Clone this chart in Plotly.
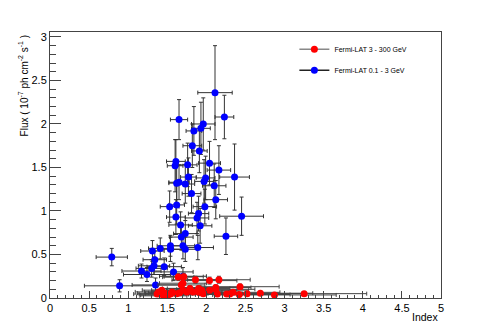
import plotly.graph_objects as go

# Fermi-LAT 0.1 - 3 GeV (blue)
blue_index = [2.11, 1.65, 2.23, 1.96, 1.93, 1.84, 1.82, 1.91, 1.61, 1.60,
              1.76, 2.04, 2.16, 2.36, 1.77, 1.99, 1.97, 1.62, 1.65, 1.73,
              2.10, 1.81, 2.12, 1.53, 1.62, 1.98, 1.90, 2.45, 1.61, 1.88,
              1.67, 1.92, 1.73, 2.25, 1.68, 1.31, 1.41, 1.54, 1.54, 1.70,
              1.73, 1.89, 1.34, 1.33, 1.30, 1.46, 1.17, 1.24, 1.58, 1.70,
              1.35, 0.79, 0.89]
blue_flux = [2.36, 2.05, 2.08, 2.00, 1.95, 1.92, 1.75, 1.69, 1.57, 1.52,
             1.53, 1.55, 1.47, 1.39, 1.39, 1.38, 1.34, 1.32, 1.33, 1.31,
             1.29, 1.20, 1.13, 1.05, 1.07, 1.05, 0.97, 0.94, 0.93, 0.92,
             0.84, 0.83, 0.74, 0.71, 0.70, 0.54, 0.57, 0.60, 0.56, 0.60,
             0.56, 0.58, 0.44, 0.37, 0.34, 0.36, 0.31, 0.27, 0.30, 0.25,
             0.15, 0.47, 0.14]
blue_index_err = [0.22, 0.11, 0.12, 0.15, 0.12, 0.10, 0.12, 0.10, 0.12, 0.10,
                  0.12, 0.14, 0.15, 0.19, 0.10, 0.12, 0.12, 0.10, 0.13, 0.12,
                  0.15, 0.12, 0.15, 0.12, 0.10, 0.15, 0.13, 0.28, 0.12, 0.15,
                  0.15, 0.15, 0.15, 0.15, 0.15, 0.15, 0.15, 0.17, 0.15, 0.15,
                  0.15, 0.20, 0.15, 0.20, 0.20, 0.22, 0.25, 0.30, 0.25, 0.30,
                  0.30, 0.20, 0.45]
blue_flux_err = [0.54, 0.23, 0.25, 0.30, 0.30, 0.28, 0.25, 0.25, 0.25, 0.30,
                 0.25, 0.25, 0.28, 0.38, 0.22, 0.25, 0.25, 0.25, 0.20, 0.22,
                 0.25, 0.22, 0.22, 0.18, 0.22, 0.20, 0.20, 0.22, 0.20, 0.18,
                 0.15, 0.20, 0.15, 0.21, 0.15, 0.12, 0.12, 0.12, 0.14, 0.15,
                 0.14, 0.14, 0.10, 0.10, 0.10, 0.10, 0.08, 0.08, 0.10, 0.10,
                 0.08, 0.10, 0.07]

# Fermi-LAT 3 - 300 GeV (red)
red_index = [1.64, 1.71, 1.86, 2.04, 2.16, 2.43, 2.12, 1.90, 1.79, 1.70,
             1.68, 1.43, 1.39, 1.37, 1.45, 1.47, 1.51, 1.54, 1.56, 1.62,
             1.66, 1.70, 1.75, 1.83, 1.91, 1.94, 1.96, 2.04, 2.12, 2.14,
             2.26, 2.30, 2.34, 2.42, 2.52, 2.69, 2.87, 3.25]
red_flux = [0.24, 0.245, 0.21, 0.20, 0.21, 0.13, 0.12, 0.11, 0.11, 0.17,
            0.15, 0.09, 0.07, 0.045, 0.025, 0.055, 0.035, 0.045, 0.07, 0.05,
            0.06, 0.09, 0.07, 0.07, 0.06, 0.09, 0.05, 0.09, 0.10, 0.045,
            0.045, 0.045, 0.065, 0.04, 0.05, 0.055, 0.035, 0.05]
red_index_err = [0.20, 0.25, 0.30, 0.35, 0.40, 0.50, 0.45, 0.40, 0.35, 0.30,
                 0.30, 0.25, 0.30, 0.30, 0.30, 0.35, 0.35, 0.40, 0.35, 0.40,
                 0.40, 0.40, 0.45, 0.45, 0.50, 0.45, 0.50, 0.50, 0.50, 0.55,
                 0.60, 0.60, 0.60, 0.65, 0.70, 0.67, 0.79, 0.80]
red_flux_err = [0.04, 0.04, 0.04, 0.04, 0.04, 0.03, 0.03, 0.03, 0.03, 0.03,
                0.03, 0.02, 0.02, 0.02, 0.02, 0.02, 0.02, 0.02, 0.02, 0.02,
                0.02, 0.02, 0.02, 0.02, 0.02, 0.02, 0.02, 0.02, 0.02, 0.02,
                0.02, 0.02, 0.02, 0.02, 0.02, 0.02, 0.02, 0.02]

font = "Liberation Sans, Arial, sans-serif"

fig = go.Figure()

fig.add_trace(go.Scatter(
    x=blue_index, y=blue_flux, mode='markers', showlegend=False,
    marker=dict(color='#0000ff', size=7),
    error_x=dict(type='data', array=blue_index_err, color='#333333', thickness=1, width=2),
    error_y=dict(type='data', array=blue_flux_err, color='#333333', thickness=1, width=2),
))
fig.add_trace(go.Scatter(
    x=red_index, y=red_flux, mode='markers', showlegend=False,
    marker=dict(color='#ff0000', size=7),
    error_x=dict(type='data', array=red_index_err, color='#444444', thickness=1, width=2),
    error_y=dict(type='data', array=red_flux_err, color='#444444', thickness=1, width=2),
))

# legend entries (line + marker, like the ROOT legend)
fig.add_trace(go.Scatter(
    x=[None], y=[None], mode='lines+markers', name='Fermi-LAT 3 - 300 GeV',
    line=dict(color='#888888', width=1.5), marker=dict(color='#ff0000', size=7),
    legendgroup='a',
))
fig.add_trace(go.Scatter(
    x=[None], y=[None], mode='lines+markers', name='Fermi-LAT 0.1 - 3 GeV',
    line=dict(color='#222222', width=1.5), marker=dict(color='#0000ff', size=7),
    legendgroup='b',
))

# page body has an 8px margin, so the figure is shifted accordingly
fig.update_layout(
    width=491, height=332,
    margin=dict(l=41.5, r=57.5, t=24, b=42),
    plot_bgcolor='white', paper_bgcolor='white',
    font=dict(family=font, size=11, color='black'),
    legend=dict(x=0.625, y=0.99, xanchor='left', yanchor='top',
                font=dict(size=7), bgcolor='rgba(0,0,0,0)',
                tracegroupgap=2),
)

fig.update_xaxes(
    range=[0, 5], dtick=0.5, tick0=0, showgrid=False, zeroline=False,
    showline=True, linecolor='#444444', linewidth=1, mirror=True,
    ticks='inside', ticklen=7, tickcolor='#444444',
    minor=dict(dtick=0.1, ticks='inside', ticklen=3.5, tickcolor='#444444', showgrid=False),
    tickfont=dict(size=11),
)
fig.update_yaxes(
    range=[0, 3.057], dtick=0.5, tick0=0, showgrid=False, zeroline=False,
    showline=True, linecolor='#444444', linewidth=1, mirror=True,
    ticks='inside', ticklen=11, tickcolor='#444444',
    minor=dict(dtick=0.1, ticks='inside', ticklen=5.5, tickcolor='#444444', showgrid=False),
    tickfont=dict(size=11),
)

fig.add_annotation(
    text='Index', xref='paper', yref='paper', x=0.998, y=-0.07,
    xanchor='right', yanchor='middle', showarrow=False, font=dict(size=10.5),
)
fig.add_annotation(
    text='Flux ( 10<sup>-7</sup> ph cm<sup>-2</sup> s<sup>-1</sup> )',
    xref='paper', yref='paper', x=-0.068, y=1.0, xanchor='center', yanchor='top',
    textangle=-90, showarrow=False, font=dict(size=10),
)

fig.write_html("out.html")
